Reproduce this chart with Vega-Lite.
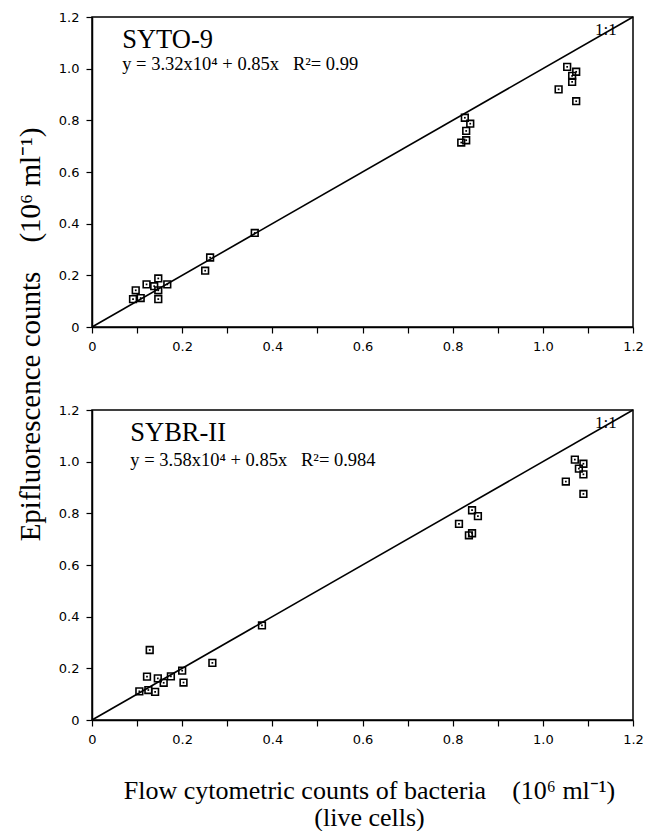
{
"$schema": "https://vega.github.io/schema/vega-lite/v6.json",
"padding": {"left": 16, "top": 10, "right": 4, "bottom": 0},
"background": "white",
"config": {
  "view": {"stroke": "black", "strokeWidth": 1.5},
  "axis": {"domainColor": "black", "domainWidth": 1.5, "tickColor": "black", "tickWidth": 1.2, "tickSize": 6, "labelFont": "DejaVu Sans", "labelFontSize": 13, "labelColor": "black", "grid": false, "labelPadding": 7, "titleFont": "Liberation Serif", "titleFontSize": 26, "titleFontWeight": "normal", "titleColor": "black", "labelFlush": false, "labelOverlap": false}
},
"datasets": {
  "diag": [{"x": 0, "y": 0}, {"x": 1.2, "y": 1.2}],
  "syto": [
    {"x": 0.091, "y": 0.108}, {"x": 0.097, "y": 0.142}, {"x": 0.108, "y": 0.112}, {"x": 0.121, "y": 0.165},
    {"x": 0.138, "y": 0.158}, {"x": 0.147, "y": 0.188}, {"x": 0.147, "y": 0.142}, {"x": 0.147, "y": 0.108},
    {"x": 0.167, "y": 0.165}, {"x": 0.251, "y": 0.218}, {"x": 0.262, "y": 0.269}, {"x": 0.361, "y": 0.364},
    {"x": 0.827, "y": 0.810}, {"x": 0.839, "y": 0.787}, {"x": 0.830, "y": 0.759}, {"x": 0.830, "y": 0.723},
    {"x": 0.819, "y": 0.714}, {"x": 1.054, "y": 1.007}, {"x": 1.074, "y": 0.988}, {"x": 1.065, "y": 0.972},
    {"x": 1.065, "y": 0.949}, {"x": 1.035, "y": 0.920}, {"x": 1.074, "y": 0.874}
  ],
  "sybr": [
    {"x": 0.128, "y": 0.271}, {"x": 0.122, "y": 0.168}, {"x": 0.146, "y": 0.161}, {"x": 0.159, "y": 0.144},
    {"x": 0.175, "y": 0.169}, {"x": 0.200, "y": 0.191}, {"x": 0.203, "y": 0.145}, {"x": 0.267, "y": 0.221},
    {"x": 0.377, "y": 0.366}, {"x": 0.105, "y": 0.111}, {"x": 0.125, "y": 0.116}, {"x": 0.140, "y": 0.109},
    {"x": 0.843, "y": 0.812}, {"x": 0.856, "y": 0.789}, {"x": 0.814, "y": 0.759}, {"x": 0.843, "y": 0.723},
    {"x": 0.836, "y": 0.715}, {"x": 1.071, "y": 1.008}, {"x": 1.090, "y": 0.992}, {"x": 1.080, "y": 0.973},
    {"x": 1.090, "y": 0.951}, {"x": 1.051, "y": 0.923}, {"x": 1.090, "y": 0.875}
  ]
},
"title": {"text": "Epifluorescence counts\u00a0\u00a0\u00a0\u00a0(10⁶ ml⁻¹)", "orient": "left", "anchor": "middle", "font": "Liberation Serif", "fontSize": 29, "fontWeight": "normal", "color": "black", "offset": 12, "dx": 86},
"spacing": 49,
"vconcat": [
  {
    "width": 541, "height": 310,
    "layer": [
      {"data": {"name": "diag"}, "mark": {"type": "line", "color": "black", "strokeWidth": 1.6},
       "encoding": {
        "x": {"field": "x", "type": "quantitative", "scale": {"domain": [0, 1.2], "nice": false}, "axis": {"title": null, "values": [0, 0.1, 0.2, 0.3, 0.4, 0.5, 0.6, 0.7, 0.8, 0.9, 1.0, 1.1, 1.2], "labelExpr": "datum.value == 0 ? '0' : (round(datum.value * 10) % 2 == 0 ? format(datum.value, '.1f') : '')"}},
        "y": {"field": "y", "type": "quantitative", "scale": {"domain": [0, 1.2], "nice": false}, "axis": {"title": null, "values": [0, 0.1, 0.2, 0.3, 0.4, 0.5, 0.6, 0.7, 0.8, 0.9, 1.0, 1.1, 1.2], "labelExpr": "datum.value == 0 ? '0' : (round(datum.value * 10) % 2 == 0 ? format(datum.value, '.1f') : '')"}}
       }},
      {"data": {"name": "syto"}, "mark": {"type": "point", "shape": "square", "filled": false, "stroke": "black", "strokeWidth": 1.6, "size": 45, "opacity": 1},
       "encoding": {"x": {"field": "x", "type": "quantitative"}, "y": {"field": "y", "type": "quantitative"}}},
      {"data": {"name": "syto"}, "mark": {"type": "point", "shape": "square", "filled": true, "color": "black", "size": 3, "opacity": 1},
       "encoding": {"x": {"field": "x", "type": "quantitative"}, "y": {"field": "y", "type": "quantitative"}}},
      {"data": {"values": [{"a": 1}]}, "mark": {"type": "text", "align": "left", "baseline": "middle", "font": "Liberation Serif", "fontSize": 26.5, "color": "black"},
       "encoding": {"x": {"datum": 0.067, "type": "quantitative"}, "y": {"datum": 1.11, "type": "quantitative"}, "text": {"value": "SYTO-9"}}},
      {"data": {"values": [{"a": 1}]}, "mark": {"type": "text", "align": "left", "baseline": "middle", "font": "Liberation Serif", "fontSize": 18.5, "color": "black"},
       "encoding": {"x": {"datum": 0.067, "type": "quantitative"}, "y": {"datum": 1.02, "type": "quantitative"}, "text": {"value": "y = 3.32x10⁴ + 0.85x\u00a0\u00a0\u00a0R²= 0.99"}}},
      {"data": {"values": [{"a": 1}]}, "mark": {"type": "text", "align": "center", "baseline": "middle", "font": "Liberation Serif", "fontSize": 17, "color": "black"},
       "encoding": {"x": {"datum": 1.14, "type": "quantitative"}, "y": {"datum": 1.15, "type": "quantitative"}, "text": {"value": "1:1"}}}
    ]
  },
  {
    "width": 541, "height": 310,
    "layer": [
      {"data": {"name": "diag"}, "mark": {"type": "line", "color": "black", "strokeWidth": 1.6},
       "encoding": {
        "x": {"field": "x", "type": "quantitative", "scale": {"domain": [0, 1.2], "nice": false}, "axis": {"title": ["Flow cytometric counts of bacteria\u00a0\u00a0\u00a0\u00a0(10⁶ ml⁻¹)", "(live cells)"], "titlePadding": 31, "titleLineHeight": 27, "titleX": 277, "titleAlign": "center", "values": [0, 0.1, 0.2, 0.3, 0.4, 0.5, 0.6, 0.7, 0.8, 0.9, 1.0, 1.1, 1.2], "labelExpr": "datum.value == 0 ? '0' : (round(datum.value * 10) % 2 == 0 ? format(datum.value, '.1f') : '')"}},
        "y": {"field": "y", "type": "quantitative", "scale": {"domain": [0, 1.2], "nice": false}, "axis": {"title": null, "values": [0, 0.1, 0.2, 0.3, 0.4, 0.5, 0.6, 0.7, 0.8, 0.9, 1.0, 1.1, 1.2], "labelExpr": "datum.value == 0 ? '0' : (round(datum.value * 10) % 2 == 0 ? format(datum.value, '.1f') : '')"}}
       }},
      {"data": {"name": "sybr"}, "mark": {"type": "point", "shape": "square", "filled": false, "stroke": "black", "strokeWidth": 1.6, "size": 45, "opacity": 1},
       "encoding": {"x": {"field": "x", "type": "quantitative"}, "y": {"field": "y", "type": "quantitative"}}},
      {"data": {"name": "sybr"}, "mark": {"type": "point", "shape": "square", "filled": true, "color": "black", "size": 3, "opacity": 1},
       "encoding": {"x": {"field": "x", "type": "quantitative"}, "y": {"field": "y", "type": "quantitative"}}},
      {"data": {"values": [{"a": 1}]}, "mark": {"type": "text", "align": "left", "baseline": "middle", "font": "Liberation Serif", "fontSize": 26.5, "color": "black"},
       "encoding": {"x": {"datum": 0.085, "type": "quantitative"}, "y": {"datum": 1.11, "type": "quantitative"}, "text": {"value": "SYBR-II"}}},
      {"data": {"values": [{"a": 1}]}, "mark": {"type": "text", "align": "left", "baseline": "middle", "font": "Liberation Serif", "fontSize": 18.5, "color": "black"},
       "encoding": {"x": {"datum": 0.085, "type": "quantitative"}, "y": {"datum": 1.005, "type": "quantitative"}, "text": {"value": "y = 3.58x10⁴ + 0.85x\u00a0\u00a0\u00a0R²= 0.984"}}},
      {"data": {"values": [{"a": 1}]}, "mark": {"type": "text", "align": "center", "baseline": "middle", "font": "Liberation Serif", "fontSize": 17, "color": "black"},
       "encoding": {"x": {"datum": 1.14, "type": "quantitative"}, "y": {"datum": 1.15, "type": "quantitative"}, "text": {"value": "1:1"}}}
    ]
  }
]
}
